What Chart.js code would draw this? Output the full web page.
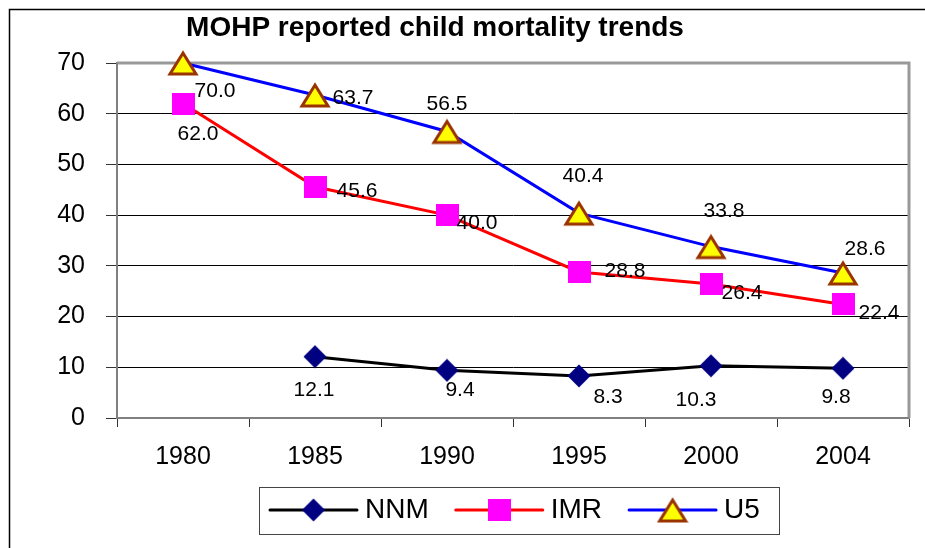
<!DOCTYPE html>
<html>
<head>
<meta charset="utf-8">
<script src="https://cdn.jsdelivr.net/npm/chart.js@4/dist/chart.umd.min.js"></script>
<style>
  body { margin: 0; background: #fff; }
  canvas { display: block; }
</style>
</head>
<body>
<canvas id="chart" width="925" height="548"></canvas>
<script>
// data
var years = ['1980', '1985', '1990', '1995', '2000', '2004'];
var nnm = [null, 12.1, 9.4, 8.3, 10.3, 9.8];
var imr = [62.0, 45.6, 40.0, 28.8, 26.4, 22.4];
var u5 = [70.0, 63.7, 56.5, 40.4, 33.8, 28.6];
var seriesNames = ['NNM', 'IMR', 'U5'];
var yTicks = [0, 10, 20, 30, 40, 50, 60, 70];

// where each value label sits relative to its point (dx, dy)
var labelOffsets = [
  [null, [-1, 34], [13, 20], [29, 21], [-15, 34], [-7, 29]],
  [[15, 31], [42, 4], [30, 8], [46, -1], [31, 9], [36, 9]],
  [[32, 28], [38, 3], [0, -27], [4, -37], [13, -35], [22, -24]]
];

var FONT = '"Liberation Sans", Arial, sans-serif';

// marker images, used both on the chart and in the legend
function makeDiamond() {
  var c = document.createElement('canvas');
  c.width = 24; c.height = 24;
  var g = c.getContext('2d');
  g.fillStyle = '#000080';
  g.beginPath();
  g.moveTo(12, 0.5); g.lineTo(23.5, 12); g.lineTo(12, 23.5); g.lineTo(0.5, 12);
  g.closePath();
  g.fill();
  return c;
}
function makeSquare() {
  var c = document.createElement('canvas');
  c.width = 23; c.height = 22;
  var g = c.getContext('2d');
  g.fillStyle = '#ff00ff';
  g.fillRect(0, 0, 23, 22);
  return c;
}
function makeTriangle() {
  var c = document.createElement('canvas');
  c.width = 32; c.height = 28;
  var g = c.getContext('2d');
  g.beginPath();
  g.moveTo(16, 4); g.lineTo(29, 25); g.lineTo(3, 25);
  g.closePath();
  g.fillStyle = '#ffff00';
  g.fill();
  g.lineWidth = 3;
  g.strokeStyle = '#993300';
  g.stroke();
  return c;
}
var markers = [makeDiamond(), makeSquare(), makeTriangle()];
var lineColors = ['#000000', '#ff0000', '#0000ff'];

var frame = {
  id: 'frame',
  beforeDraw: function (chart) {
    var c = chart.ctx;
    c.save();
    c.fillStyle = '#fff';
    c.fillRect(0, 0, chart.width, chart.height);
    c.strokeStyle = '#000';
    c.lineWidth = 1.5;
    c.beginPath();
    c.moveTo(9.5, chart.height + 5);
    c.lineTo(9.5, 9.5);
    c.lineTo(chart.width + 5, 9.5);
    c.stroke();
    // title
    c.fillStyle = '#000';
    c.font = 'bold 28px ' + FONT;
    c.textAlign = 'center';
    c.textBaseline = 'alphabetic';
    c.fillText('MOHP reported child mortality trends', 435, 36);
    c.restore();
  },
  beforeDatasetsDraw: function (chart) {
    var a = chart.chartArea, c = chart.ctx;
    c.save();
    c.strokeStyle = '#999999';
    c.lineWidth = 3;
    c.beginPath();
    c.moveTo(a.left, a.top);
    c.lineTo(a.right, a.top);
    c.lineTo(a.right, a.bottom);
    c.stroke();
    c.strokeStyle = '#808080';
    c.lineWidth = 2;
    c.beginPath();
    c.moveTo(a.left, a.top);
    c.lineTo(a.left, a.bottom);
    c.lineTo(a.right, a.bottom);
    c.stroke();
    c.restore();
  },
  afterDatasetsDraw: function (chart) {
    var c = chart.ctx;
    c.save();
    c.fillStyle = '#000';
    c.font = '21px ' + FONT;
    c.textAlign = 'center';
    c.textBaseline = 'middle';
    chart.data.datasets.forEach(function (ds, i) {
      var meta = chart.getDatasetMeta(i);
      meta.data.forEach(function (pt, j) {
        var v = ds.data[j];
        if (v === null || !labelOffsets[i][j]) return;
        c.fillText(v.toFixed(1), pt.x + labelOffsets[i][j][0], pt.y + labelOffsets[i][j][1]);
      });
    });
    c.restore();
  },
  afterDraw: function (chart) {
    // legend box with line + marker samples
    var c = chart.ctx;
    c.save();
    c.strokeStyle = '#444';
    c.lineWidth = 1;
    c.strokeRect(259.5, 487.5, 520, 47);
    c.font = '28px ' + FONT;
    c.textBaseline = 'middle';
    c.textAlign = 'left';
    var x = 270, y = 510;
    chart.data.datasets.forEach(function (ds, i) {
      c.strokeStyle = ds.borderColor;
      c.lineWidth = 3;
      c.lineCap = 'round';
      c.beginPath();
      c.moveTo(x, y);
      c.lineTo(x + 87, y);
      c.stroke();
      var m = markers[i];
      c.drawImage(m, x + 43.5 - m.width / 2, y - m.height / 2);
      c.fillStyle = '#000';
      c.fillText(ds.label, x + 95, y);
      x += 95 + c.measureText(ds.label).width + 27;
    });
    c.restore();
  }
};

function series(i, values) {
  return {
    label: seriesNames[i],
    data: values,
    borderColor: lineColors[i],
    backgroundColor: lineColors[i],
    borderWidth: 3,
    pointStyle: markers[i],
    pointRadius: 10,
    pointHoverRadius: 10,
    tension: 0,
    clip: false
  };
}

new Chart(document.getElementById('chart'), {
  type: 'line',
  data: {
    labels: years,
    datasets: [series(0, nnm), series(1, imr), series(2, u5)]
  },
  plugins: [frame],
  options: {
    responsive: false,
    animation: false,
    devicePixelRatio: 1,
    layout: { padding: { left: 0, right: 16, top: 63, bottom: 70 } },
    plugins: {
      legend: { display: false },
      title: { display: false },
      tooltip: { enabled: false }
    },
    scales: {
      x: {
        offset: true,
        afterFit: function (s) { s.height = 60; },
        grid: {
          offset: true,
          drawOnChartArea: false,
          tickLength: 9,
          tickColor: '#333',
          tickWidth: 1
        },
        border: { color: '#808080', width: 2 },
        ticks: {
          color: '#000',
          font: { family: FONT, size: 25 },
          padding: 15,
          maxRotation: 0,
          autoSkip: false
        }
      },
      y: {
        min: 0,
        max: 70,
        afterFit: function (s) { s.width = 117; },
        afterBuildTicks: function (s) {
          s.ticks = yTicks.map(function (v) { return { value: v }; });
        },
        grid: {
          color: '#000',
          lineWidth: 1,
          tickLength: 11,
          tickColor: '#333'
        },
        border: { color: '#808080', width: 2 },
        ticks: {
          color: '#000',
          font: { family: FONT, size: 25 },
          padding: 21
        }
      }
    }
  }
});
</script>
</body>
</html>
